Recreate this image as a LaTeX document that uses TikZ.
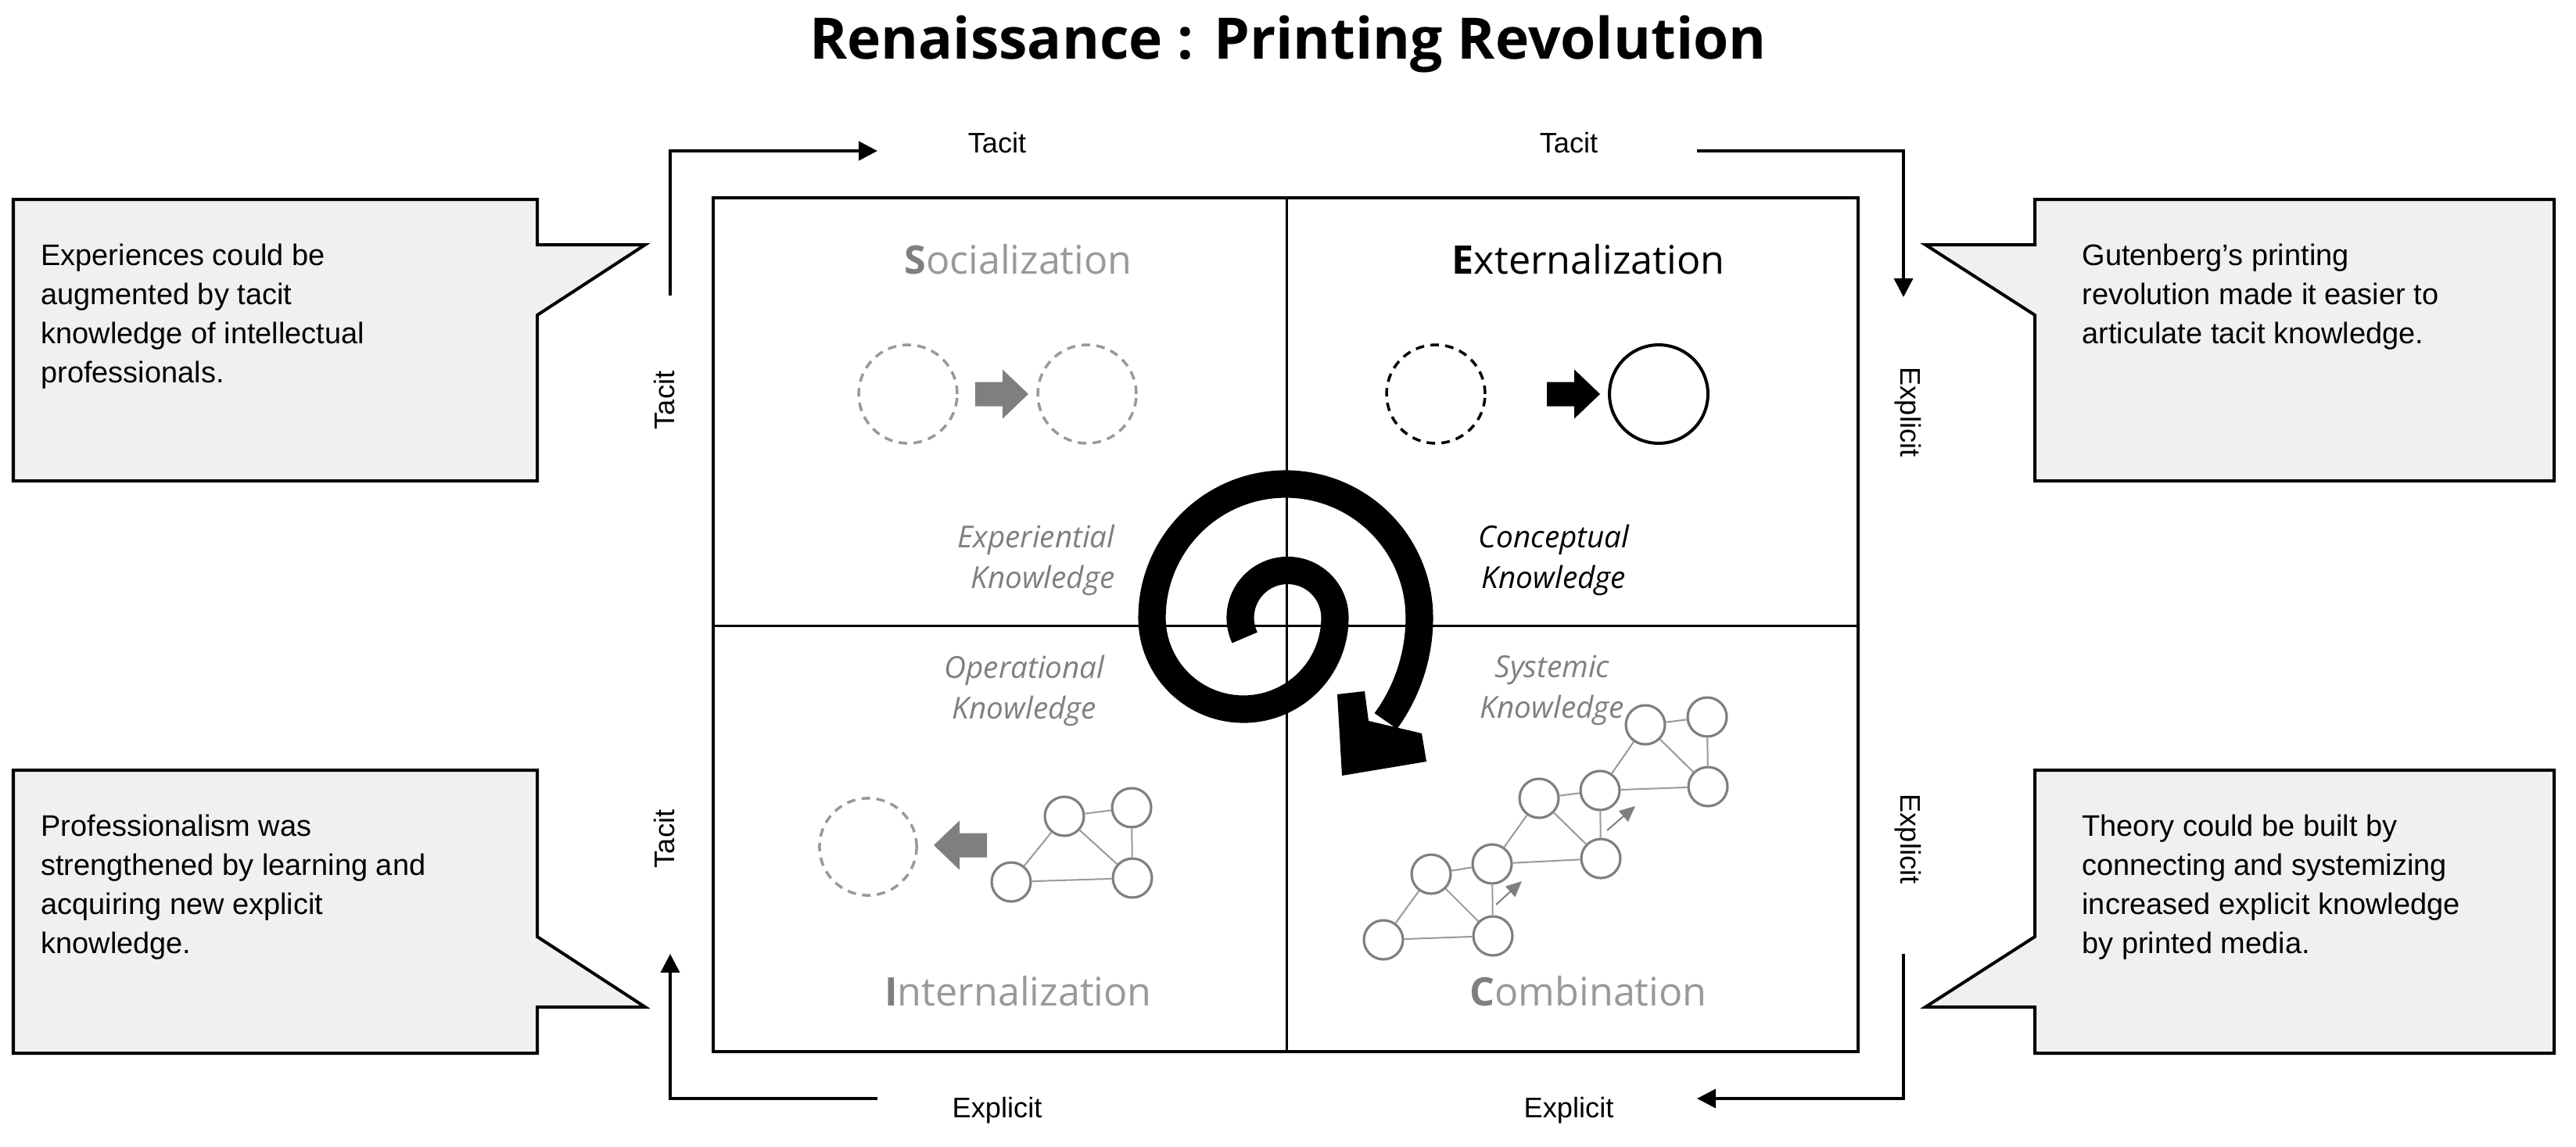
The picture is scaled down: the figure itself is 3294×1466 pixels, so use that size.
\documentclass[tikz,border=0pt]{standalone}
\usepackage{fontspec}
\setmainfont{Liberation Sans}
\newfontfamily\osans{Open Sans}
\usetikzlibrary{arrows.meta}
\definecolor{cgray}{HTML}{7F7F7F}
\definecolor{lgray}{HTML}{999999}
\definecolor{cfill}{HTML}{F0F0F0}
\newcommand\myBlockArrow[4]{% x,y,dir(1/-1),color
  \fill[#4,shift={(#1,#2)},xscale=#3] (-34,-15.5)--(1,-15.5)--(1,-31.5)--(34,0)--(1,31.5)--(1,15.5)--(-34,15.5)--cycle;}
\begin{document}
\begin{tikzpicture}[x=0.01cm,y=-0.01cm,
  call/.style={draw=black,line width=1.14pt,fill=cfill},
  ctext/.style={font=\fontsize{10.8}{14.2}\selectfont,align=left,anchor=north west},
  side/.style={font=\fontsize{10.3}{12}\selectfont},
  qt/.style={font=\osans\fontsize{14.3}{16}\selectfont},
  kn/.style={font=\osans\itshape\fontsize{11}{14.8}\selectfont,align=center},
  gc/.style={circle,draw=cgray,line width=0.9pt,minimum size=14.2pt,inner sep=0},
  ge/.style={draw=lgray,line width=0.57pt},
  dc/.style={circle,line width=1pt,dash pattern=on 3.1pt off 2.3pt,inner sep=0}]
\useasboundingbox (0,0) rectangle (3294,1466);
% title
\node[font=\osans\bfseries\fontsize{20.8}{24}\selectfont] (title) at (1647,56) {Renaissance : Printing Revolution};
% main box
\draw[line width=1.14pt] (912,253) rectangle (2376,1345);
\draw[line width=0.85pt] (1645,253) -- (1645,1345);
\draw[line width=0.85pt] (912,800) -- (2376,800);
% callouts
\draw[call] (17,255)--(687,255)--(687,313)--(825,313)--(687,403)--(687,615)--(17,615)--cycle;
\draw[call] (3266,255)--(2602,255)--(2602,313)--(2462,313)--(2602,403)--(2602,615)--(3266,615)--cycle;
\draw[call] (17,985)--(687,985)--(687,1198)--(825,1288)--(687,1288)--(687,1347)--(17,1347)--cycle;
\draw[call] (3266,985)--(2602,985)--(2602,1198)--(2462,1288)--(2602,1288)--(2602,1347)--(3266,1347)--cycle;
\node[ctext] (t1) at (40,300) {Experiences could be\\augmented by tacit\\knowledge of intellectual\\professionals.};
\node[ctext] (t2) at (2650,300) {Gutenberg’s printing\\revolution made it easier to\\articulate tacit knowledge.};
\node[ctext] (t3) at (40,1030) {Professionalism was\\strengthened by learning and\\acquiring new explicit\\knowledge.};
\node[ctext] (t4) at (2650,1030) {Theory could be built by\\connecting and systemizing\\increased explicit knowledge\\by printed media.};
% flow arrows
\coordinate (a1s) at (857,378); \coordinate (a1c) at (857,193); \coordinate (a1e) at (1122,193);
\coordinate (a2s) at (2170,193); \coordinate (a2c) at (2434,193); \coordinate (a2e) at (2434,380);
\coordinate (a3s) at (2434,1220); \coordinate (a3c) at (2434,1405); \coordinate (a3e) at (2170,1405);
\coordinate (a4s) at (1122,1405); \coordinate (a4c) at (857,1405); \coordinate (a4e) at (857,1220);
\foreach \i in {1,2,3,4}{\draw[line width=1.14pt,-{Triangle[length=6.8pt,width=6.8pt]}] (a\i s) -- (a\i c) -- (a\i e);}
\node[side] (lt1) at (1275,183) {Tacit};
\node[side] (lt2) at (2006,183) {Tacit};
\node[side] (lb1) at (1275,1420) {Explicit};
\node[side] (lb2) at (2006,1420) {Explicit};
\node[side,rotate=90] (ll1) at (850,512) {Tacit};
\node[side,rotate=90] (ll2) at (850,1073) {Tacit};
\node[side,rotate=-90] (lr1) at (2440,527) {Explicit};
\node[side,rotate=-90] (lr2) at (2440,1073) {Explicit};
% quadrant titles
\node[qt,text=lgray] (q1) at (1302,332) {{\color{cgray}\bfseries S}ocialization};
\node[qt] (q2) at (2031,332) {{\bfseries E}xternalization};
\node[qt,text=lgray] (q3) at (1302,1268) {{\color{cgray}\bfseries I}nternalization};
\node[qt,text=lgray] (q4) at (2031,1268) {{\color{cgray}\bfseries C}ombination};
% knowledge labels
\node[kn,align=right,text=cgray] (k1) at (1325,716) {Experiential\\Knowledge};
\node[kn] (k2) at (1987,716) {Conceptual\\Knowledge};
\node[kn,text=cgray] (k3) at (1310,883) {Operational\\Knowledge};
\node[kn,text=cgray] (k4) at (1985,883) {Systemic\\Knowledge};
% socialization
\node[dc,draw=lgray,minimum size=35.8pt] (s1) at (1161,504) {};
\node[dc,draw=lgray,minimum size=35.8pt] (s2) at (1390,504) {};
\myBlockArrow{1281}{504}{1}{cgray}
% externalization
\node[dc,draw=black,minimum size=35.8pt] (e1) at (1836,504) {};
\node[circle,draw=black,line width=1.14pt,minimum size=35.8pt,inner sep=0] (e2) at (2121,504) {};
\myBlockArrow{2012}{504}{1}{black}
% internalization
\node[dc,draw=lgray,minimum size=35.3pt] (i0) at (1110,1083) {};
\myBlockArrow{1228}{1081}{-1}{cgray}
\node[gc] (i1) at (1293,1128) {};
\node[gc] (i2) at (1361,1044) {};
\node[gc] (i3) at (1447,1033) {};
\node[gc] (i4) at (1448,1123) {};
\draw[ge] (i1)--(i2) (i2)--(i3) (i2)--(i4) (i3)--(i4) (i1)--(i4);
% combination
\node[gc] (c1) at (1769,1202) {};
\node[gc] (c2) at (1830,1118) {};
\node[gc] (c3) at (1908,1105) {};
\node[gc] (c4) at (1909,1197) {};
\node[gc] (c5) at (1968,1021) {};
\node[gc] (c6) at (2046,1011) {};
\node[gc] (c7) at (2047,1098) {};
\node[gc] (c8) at (2104,927) {};
\node[gc] (c9) at (2183,917) {};
\node[gc] (c10) at (2184,1006) {};
\draw[ge] (c1)--(c2) (c2)--(c3) (c2)--(c4) (c3)--(c4) (c1)--(c4)
          (c3)--(c5) (c5)--(c6) (c5)--(c7) (c6)--(c7) (c3)--(c7)
          (c6)--(c8) (c8)--(c9) (c8)--(c10) (c9)--(c10) (c6)--(c10);
\coordinate (m1s) at (1913,1157); \coordinate (m1e) at (1946,1127);
\coordinate (m2s) at (2055,1062); \coordinate (m2e) at (2091,1031);
\draw[cgray,line width=0.57pt,-{Triangle[length=5.7pt,width=5.1pt]}] (m1s)--(m1e);
\draw[cgray,line width=0.57pt,-{Triangle[length=5.7pt,width=5.1pt]}] (m2s)--(m2e);
% spiral
\draw[line width=10pt,line cap=butt,line join=round]
  plot[domain=205:0,samples=40,smooth] ({1646.5+60.5*cos(\x)},{790-60.5*sin(\x)})
  -- plot[domain=0:-180,samples=40,smooth] ({1590+117*cos(\x)},{790-117*sin(\x)})
  -- plot[domain=180:0,samples=40,smooth] ({1644+171*cos(\x)},{790-171*sin(\x)})
  -- plot[domain=0:-36,samples=12,smooth] ({1590+225*cos(\x)},{790-225*sin(\x)});
\fill (1710,888)--(1745,884)--(1750,922)--(1818,938)--(1824,974)--(1716,992)--cycle;
\end{tikzpicture}
\end{document}
